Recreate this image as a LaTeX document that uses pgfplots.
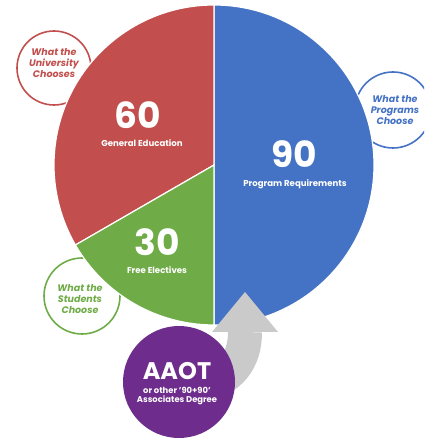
\documentclass[border=0pt]{standalone}
\usepackage{pgfplots}
\usepackage{pgfplotstable}
\pgfplotsset{compat=1.18}
\usepackage{fontspec}
\setmainfont{Poppins}
\definecolor{cred}{HTML}{C24F4D}
\definecolor{cblue}{HTML}{4472C4}
\definecolor{cgreen}{HTML}{6FAC47}
\definecolor{cpurple}{HTML}{6E2C8C}
\definecolor{cgray}{HTML}{CACACA}
\pgfplotstableread{
label value
Program 90
General 60
Free 30
}\piedata
\begin{document}
\begin{tikzpicture}
\pgfplotstablegetelem{0}{value}\of\piedata \let\vA\pgfplotsretval
\pgfplotstablegetelem{1}{value}\of\piedata \let\vB\pgfplotsretval
\pgfplotstablegetelem{2}{value}\of\piedata \let\vC\pgfplotsretval
\pgfmathsetmacro{\tot}{\vA+\vB+\vC}
\pgfmathsetmacro{\eA}{90-\vA/\tot*360}
\pgfmathsetmacro{\eB}{90+\vB/\tot*360}
\pgfmathsetmacro{\eC}{\eB+\vC/\tot*360}
\begin{axis}[x=1pt,y=1pt,xmin=0,xmax=424,ymin=0,ymax=439,hide axis,
  axis line style={draw=none}]
\path (rel axis cs:0,0) rectangle (rel axis cs:1,1);
% side circles
\draw[cred,line width=1.6pt,fill=white] (axis cs:54,371) circle[radius=37pt];
\node[cred,inner sep=0pt,font=\bfseries\itshape\fontsize{9.5}{11}\selectfont,align=center] at (axis cs:54,376) {What the\\University\\Chooses};
\draw[cblue,line width=1.6pt,fill=white] (axis cs:393,329) circle[radius=38pt];
\node[cblue,inner sep=0pt,font=\bfseries\itshape\fontsize{9.5}{11}\selectfont,align=center] at (axis cs:395,329) {What the\\Programs\\Choose};
\draw[cgreen,line width=1.6pt,fill=white] (axis cs:82,143) circle[radius=38pt];
\node[cgreen,inner sep=0pt,font=\bfseries\itshape\fontsize{9.5}{11}\selectfont,align=center] at (axis cs:80,140) {What the\\Students\\Choose};
% pie
\fill[cblue,draw=white,line width=1.2pt] (axis cs:214,274) -- ++(90:160pt) arc[start angle=90,end angle=\eA,radius=160pt] -- cycle;
\fill[cred,draw=white,line width=1.2pt] (axis cs:214,274) -- ++(90:160pt) arc[start angle=90,end angle=\eB,radius=160pt] -- cycle;
\fill[cgreen,draw=white,line width=1.2pt] (axis cs:214,274) -- ++(\eB:160pt) arc[start angle=\eB,end angle=\eC,radius=160pt] -- cycle;
% arrow
\draw[cgray,line width=34pt] (axis cs:245,107) .. controls (axis cs:245,80) and (axis cs:232,58) .. (axis cs:195,52);
\fill[cgray] (axis cs:212,107) -- (axis cs:245,147) -- (axis cs:278,107) -- cycle;
% purple circle
\fill[cpurple] (axis cs:179,57) circle[radius=56pt];
% labels
\node[white,inner sep=0pt,font=\bfseries\fontsize{36}{36}\selectfont] at (axis cs:138,324) {\vB};
\node[white,inner sep=0pt,font=\bfseries\fontsize{8.6}{9}\selectfont] at (axis cs:142,296) {General Education};
\node[white,inner sep=0pt,font=\bfseries\fontsize{36}{36}\selectfont] at (axis cs:294,285) {\vA};
\node[white,inner sep=0pt,font=\bfseries\fontsize{8.6}{9}\selectfont] at (axis cs:295,255) {Program Requirements};
\node[white,inner sep=0pt,font=\bfseries\fontsize{36}{36}\selectfont] at (axis cs:157,197) {\vC};
\node[white,inner sep=0pt,font=\bfseries\fontsize{8.6}{9}\selectfont] at (axis cs:157,169) {Free Electives};
\node[white,inner sep=0pt,font=\bfseries\fontsize{24}{24}\selectfont] at (axis cs:177,68) {AAOT};
\node[white,inner sep=0pt,font=\bfseries\fontsize{8.4}{9.5}\selectfont,align=center] at (axis cs:177,43) {or other '90+90’\\Associates Degree};
\end{axis}
\end{tikzpicture}
\end{document}
